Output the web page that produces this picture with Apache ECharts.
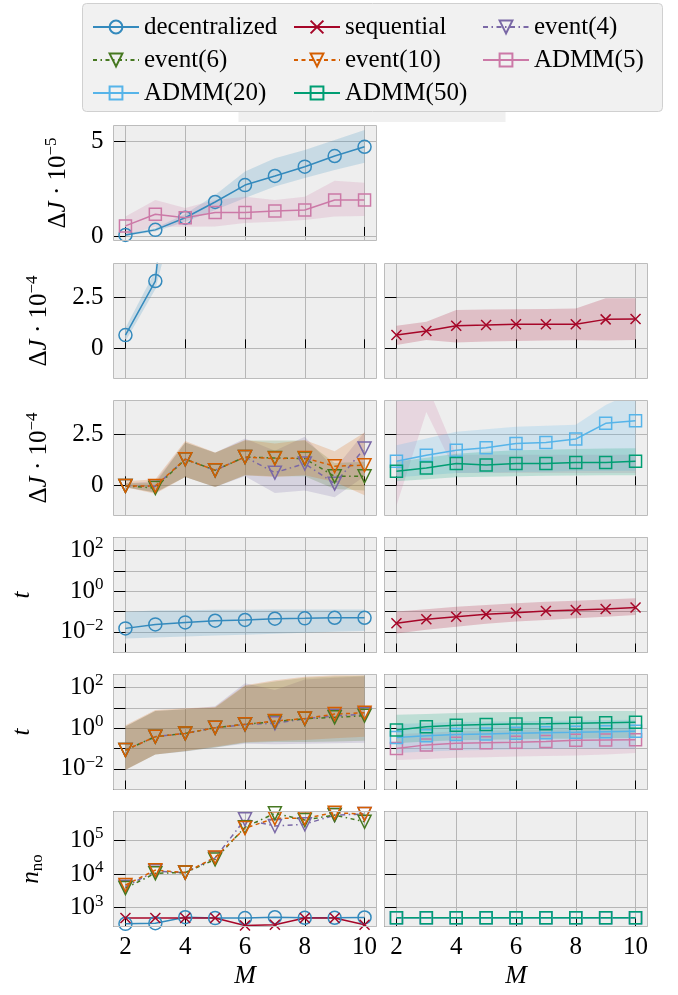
<!DOCTYPE html>
<html lang="en">
<head>
<meta charset="UTF-8">
<title>Delta J, t and n_no against M</title>
<style>
  html, body { margin: 0; padding: 0; background: #fff; }
  #main { width: 678px; height: 995px; }
</style>
</head>
<body>
<div id="main"></div>
<script src="https://cdn.jsdelivr.net/npm/echarts@6.0.0/dist/echarts.min.js"></script>
<script>
// x values (number of agents) and ticks
const M = [2, 3, 4, 5, 6, 7, 8, 9, 10];
const xTicks = [2, 4, 6, 8, 10];
const dJ5Ticks = [0, 5];
const dJ4Ticks = [0, 2.5];

// row 1: dJ in units of 1e-5
const r1Dec   = [0.05, 0.32, 0.96, 1.79, 2.68, 3.16, 3.65, 4.21, 4.70];
const r1DecLo = [0.00, 0.23, 0.75, 1.37, 2.00, 2.60, 3.05, 3.47, 3.86];
const r1DecHi = [0.12, 0.42, 1.16, 2.16, 3.39, 4.10, 4.53, 5.05, 5.58];
const r1Ad5   = [0.53, 1.14, 0.96, 1.23, 1.23, 1.32, 1.37, 1.89, 1.89];
const r1Ad5Lo = [0.05, 0.49, 0.49, 0.50, 0.68, 0.75, 0.84, 1.02, 1.05];
const r1Ad5Hi = [1.02, 1.90, 1.47, 1.90, 2.07, 1.90, 2.07, 2.91, 2.80];

// row 2: dJ in units of 1e-4
const r2Dec   = [0.65, 3.3, 17, 32, 50, 68, 88, 110, 132];
const r2DecLo = [0.35, 2.9, 8.5, 22, 38, 54, 72, 92, 112];
const r2DecHi = [1.00, 3.8, 25, 42, 62, 82, 104, 128, 152];
const r2Seq   = [0.65, 0.85, 1.11, 1.14, 1.18, 1.18, 1.18, 1.42, 1.44];
const r2SeqLo = [0.16, 0.41, 0.28, 0.34, 0.36, 0.38, 0.40, 0.38, 0.41];
const r2SeqHi = [1.11, 1.30, 1.88, 1.90, 1.92, 1.93, 1.95, 2.45, 2.45];

// row 3: dJ in units of 1e-4
const r3Ev4    = [-0.03, -0.05, 1.28, 0.74, 1.39, 0.62, 1.07, 0.08, 1.81];
const r3Ev4Lo  = [-0.10, -0.35, 0.41, -0.08, 0.45, -0.38, -0.25, -0.58, 0.45];
const r3Ev4Hi  = [0.10, 0.20, 2.10, 1.60, 2.30, 1.70, 2.38, 0.80, 2.60];
const r3Ev6    = [-0.03, -0.13, 1.28, 0.74, 1.39, 1.34, 1.31, 0.44, 0.44];
const r3Ev6Lo  = [-0.10, -0.35, 0.41, -0.08, 0.49, 0.45, 0.45, -0.18, -0.26];
const r3Ev6Hi  = [0.10, 0.10, 2.10, 1.60, 2.20, 2.20, 2.20, 1.10, 1.15];
const r3Ev10   = [-0.03, -0.03, 1.28, 0.74, 1.39, 1.31, 1.34, 0.94, 0.99];
const r3Ev10Lo = [-0.10, -0.41, 0.41, -0.08, 0.49, 0.41, 0.49, 0.16, -0.49];
const r3Ev10Hi = [0.20, 0.30, 2.17, 1.61, 2.22, 2.05, 2.22, 1.67, 2.59];
const r3Ad5Lo  = [-1.0, 3.6, 0.6, 0.6, 0.6, 0.6, 0.6, 0.6, 0.6];
const r3Ad5Hi  = [40, 5.0, 1.5, 1.5, 1.5, 1.5, 1.5, 1.5, 1.5];
const r3Ad20   = [1.18, 1.48, 1.72, 1.84, 2.05, 2.10, 2.27, 3.04, 3.17];
const r3Ad20Lo = [0.40, 0.50, 0.60, 0.62, 0.65, 0.66, 0.70, 0.70, 0.72];
const r3Ad20Hi = [1.97, 2.30, 2.63, 2.75, 2.87, 2.92, 2.97, 3.94, 4.60];
const r3Ad50   = [0.69, 0.85, 1.07, 1.00, 1.07, 1.07, 1.12, 1.12, 1.18];
const r3Ad50Lo = [0.20, 0.30, 0.40, 0.42, 0.45, 0.47, 0.48, 0.50, 0.50];
const r3Ad50Hi = [1.15, 1.35, 1.55, 1.65, 1.72, 1.75, 1.78, 1.80, 1.82];

// row 4: computation time t
const r4Dec   = [0.0147, 0.023, 0.029, 0.035, 0.038, 0.044, 0.046, 0.049, 0.049];
const r4DecLo = [0.0047, 0.0052, 0.0058, 0.0065, 0.0072, 0.0080, 0.0090, 0.0100, 0.0110];
const r4DecHi = [0.098, 0.110, 0.115, 0.120, 0.120, 0.125, 0.125, 0.125, 0.125];
const r4Seq   = [0.026, 0.041, 0.055, 0.072, 0.087, 0.105, 0.117, 0.132, 0.155];
const r4SeqLo = [0.0083, 0.0126, 0.0178, 0.025, 0.032, 0.038, 0.046, 0.055, 0.066];
const r4SeqHi = [0.10, 0.13, 0.17, 0.21, 0.25, 0.30, 0.34, 0.39, 0.45];

// row 5: computation time t
const r5Ev4    = [0.083, 0.38, 0.55, 1.05, 1.50, 1.74, 2.9, 4.0, 4.9];
const r5Ev4Lo  = [0.009, 0.050, 0.070, 0.11, 0.17, 0.16, 0.17, 0.18, 0.19];
const r5Ev4Hi  = [1.2, 7.0, 8.5, 12, 160, 76, 250, 300, 350];
const r5Ev6    = [0.083, 0.38, 0.55, 1.05, 1.55, 2.1, 2.9, 3.4, 4.1];
const r5Ev6Lo  = [0.009, 0.050, 0.072, 0.11, 0.19, 0.21, 0.21, 0.22, 0.24];
const r5Ev6Hi  = [1.2, 7.0, 8.5, 10, 120, 200, 300, 350, 380];
const r5Ev10   = [0.083, 0.38, 0.55, 1.05, 1.55, 2.24, 3.0, 4.9, 5.7];
const r5Ev10Lo = [0.0087, 0.051, 0.074, 0.12, 0.20, 0.23, 0.26, 0.32, 0.38];
const r5Ev10Hi = [1.4, 7.8, 9.5, 11, 130, 230, 340, 400, 400];
const r5Ad5    = [0.10, 0.15, 0.18, 0.19, 0.20, 0.22, 0.25, 0.26, 0.27];
const r5Ad5Lo  = [0.027, 0.030, 0.035, 0.037, 0.040, 0.042, 0.045, 0.050, 0.060];
const r5Ad5Hi  = [0.50, 0.60, 0.70, 0.75, 0.80, 0.85, 0.90, 0.95, 1.00];
const r5Ad20   = [0.35, 0.42, 0.48, 0.52, 0.56, 0.60, 0.63, 0.67, 0.70];
const r5Ad20Lo = [0.060, 0.070, 0.080, 0.085, 0.090, 0.095, 0.10, 0.10, 0.10];
const r5Ad20Hi = [1.6, 1.8, 2.0, 2.1, 2.2, 2.3, 2.4, 2.5, 2.6];
const r5Ad50   = [0.81, 1.17, 1.40, 1.50, 1.60, 1.63, 1.72, 1.86, 1.95];
const r5Ad50Lo = [0.18, 0.22, 0.25, 0.27, 0.28, 0.30, 0.30, 0.32, 0.33];
const r5Ad50Hi = [4.5, 5.0, 5.5, 6.0, 6.2, 6.5, 6.8, 7.0, 7.0];

// row 6: n_no
const r6Ev4  = [4200, 12000, 11000, 30000, 420000, 265000, 300000, 560000, 600000];
const r6Ev6  = [3800, 10500, 11000, 27000, 245000, 630000, 400000, 560000, 355000];
const r6Ev10 = [4700, 13000, 11000, 31000, 230000, 450000, 450000, 660000, 600000];
const r6Dec  = [330, 345, 520, 490, 490, 520, 500, 500, 510];
const r6Seq  = [490, 490, 490, 490, 295, 310, 490, 490, 310];
const r6Ad5  = [500, 500, 500, 500, 500, 500, 500, 500, 500];
const r6Ad20 = [500, 500, 500, 500, 500, 500, 500, 500, 500];
const r6Ad50 = [500, 500, 500, 500, 500, 500, 500, 500, 500];

const FONT = 'Liberation Serif';
const CROSS = 'path://M0,0L10,10M10,0L0,10';
const ST = {
  'decentralized': { color: '#348ABD', symbol: 'circle', size: 13, dash: 'solid' },
  'sequential':    { color: '#A60628', symbol: CROSS, size: 10, dash: 'solid' },
  'event(4)':      { color: '#7A68A6', symbol: 'triangle', size: 13, rotate: 180, dash: [5, 3.5, 1.5, 3.5] },
  'event(6)':      { color: '#467821', symbol: 'triangle', size: 13, rotate: 180, dash: [4, 3.5, 1.5, 3.5] },
  'event(10)':     { color: '#D55E00', symbol: 'triangle', size: 13, rotate: 180, dash: [4, 3.5] },
  'ADMM(5)':       { color: '#CC79A7', symbol: 'rect', size: 12, dash: 'solid' },
  'ADMM(20)':      { color: '#56B4E9', symbol: 'rect', size: 12, dash: 'solid' },
  'ADMM(50)':      { color: '#009E73', symbol: 'rect', size: 12, dash: 'solid' }
};

function alpha(hex, a) {
  const n = parseInt(hex.slice(1), 16);
  return 'rgba(' + (n >> 16) + ',' + ((n >> 8) & 255) + ',' + (n & 255) + ',' + a + ')';
}

// layout
const COLS = [113.5, 384.5], COLW = 263;
const TOPS = [125.5, 263.5, 400.5, 537.5, 674.5, 811.5], ROWH = 115;
// [row, col, kind]
const PANELS = [[0, 0, 'dJ5'], [1, 0, 'dJ4'], [1, 1, 'dJ4'], [2, 0, 'dJ4'], [2, 1, 'dJ4'],
  [3, 0, 't'], [3, 1, 't'], [4, 0, 't'], [4, 1, 't'], [5, 0, 'n'], [5, 1, 'n']];

const RICH = {
  b: { fontFamily: FONT, fontSize: 25, lineHeight: 30, color: '#000' },
  i: { fontFamily: FONT, fontSize: 25, lineHeight: 30, fontStyle: 'italic', color: '#000' },
  s: { fontFamily: FONT, fontSize: 17, lineHeight: 20, verticalAlign: 'top', color: '#000' },
  u: { fontFamily: FONT, fontSize: 17, lineHeight: 18, verticalAlign: 'bottom', color: '#000' }
};

const KIND = {
  dJ5: { type: 'value', min: -0.24, max: 5.82, ticks: dJ5Ticks, name: '{b|Δ}{i|J}{b| · 10}{s|−5}', gap: 40 },
  dJ4: { type: 'value', min: -1.48, max: 4.16, ticks: dJ4Ticks, name: '{b|Δ}{i|J}{b| · 10}{s|−4}', gap: 59 },
  t:   { type: 'log', min: 0.000955, max: 436.5, name: '{i|t}', gap: 76, every: 2 },
  n:   { type: 'log', min: 275.4, max: 716000, name: '{i|n}{u|no}', gap: 67, every: 1 }
};

function logLabel(every) {
  return function (v) {
    const e = Math.log10(v);
    const r = Math.round(e);
    if (Math.abs(e - r) > 1e-6 || r % every !== 0) return '';
    return '{b|10}{s|' + (r < 0 ? '−' + (-r) : r) + '}';
  };
}

const grids = [], xAxes = [], yAxes = [], frames = [];
PANELS.forEach(function (p) {
  const row = p[0], col = p[1], k = KIND[p[2]];
  const bottom = row === 5;
  grids.push({ left: COLS[col], top: TOPS[row], width: COLW, height: ROWH,
    show: true, backgroundColor: '#eeeeee', borderWidth: 0 });
  frames.push({ type: 'rect', z: 100, silent: true,
    shape: { x: COLS[col], y: TOPS[row], width: COLW, height: ROWH },
    style: { fill: 'none', stroke: '#bcbcbc', lineWidth: 1 } });
  xAxes.push({
    type: 'value', gridIndex: grids.length - 1, min: 1.6, max: 10.4,
    axisLine: { show: false },
    axisTick: { show: true, inside: true, length: 9, customValues: xTicks, lineStyle: { color: '#000', width: 1 } },
    axisLabel: { show: bottom, customValues: xTicks, margin: 8, fontFamily: FONT, fontSize: 25, color: '#000' },
    splitLine: { show: true, lineStyle: { color: '#b6b6b6', width: 1 } },
    name: bottom ? 'M' : '', nameLocation: 'middle', nameGap: 37,
    nameTextStyle: { fontFamily: FONT, fontSize: 26, fontStyle: 'italic', color: '#000' }
  });
  const y = {
    type: k.type, gridIndex: grids.length - 1, min: k.min, max: k.max,
    axisLine: { show: false },
    axisTick: { show: true, inside: true, length: 12, lineStyle: { color: '#000', width: 1 } },
    axisLabel: { show: col === 0, margin: 10, fontFamily: FONT, fontSize: 25, color: '#000', rich: RICH },
    splitLine: { show: true, lineStyle: { color: '#b6b6b6', width: 1 } },
    name: col === 0 ? k.name : '', nameLocation: 'middle', nameGap: k.gap, nameRotate: 90,
    nameTextStyle: { fontFamily: FONT, fontSize: 25, color: '#000', rich: RICH }
  };
  if (k.type === 'log') {
    y.logBase = 10;
    y.axisLabel.formatter = logLabel(k.every);
  } else {
    y.axisTick.customValues = k.ticks;
    y.axisLabel.customValues = k.ticks;
  }
  yAxes.push(y);
});

function band(g, lo, hi, name) {
  const fill = alpha(ST[name].color, 0.2);
  return {
    type: 'custom', xAxisIndex: g, yAxisIndex: g, clip: true, silent: true, z: 1,
    data: [[M[0], hi[0]]],
    renderItem: function (params, api) {
      const pts = [];
      for (let i = 0; i < M.length; i++) pts.push(api.coord([M[i], hi[i]]));
      for (let i = M.length - 1; i >= 0; i--) pts.push(api.coord([M[i], lo[i]]));
      return { type: 'polygon', shape: { points: pts }, style: { fill: fill } };
    }
  };
}

function line(g, vals, name) {
  const s = ST[name];
  return {
    type: 'line', name: name, xAxisIndex: g, yAxisIndex: g, z: 2, silent: true,
    data: M.map(function (m, i) { return [m, vals[i]]; }),
    symbol: s.symbol, symbolSize: s.size, symbolRotate: s.rotate || 0, showAllSymbol: true,
    lineStyle: { color: s.color, width: 1.5, type: s.dash },
    itemStyle: { color: 'rgba(0,0,0,0)', borderColor: s.color, borderWidth: 1.5 },
    emphasis: { disabled: true }
  };
}

const series = [
  band(0, r1DecLo, r1DecHi, 'decentralized'), band(0, r1Ad5Lo, r1Ad5Hi, 'ADMM(5)'),
  line(0, r1Dec, 'decentralized'), line(0, r1Ad5, 'ADMM(5)'),

  band(1, r2DecLo, r2DecHi, 'decentralized'), line(1, r2Dec, 'decentralized'),
  band(2, r2SeqLo, r2SeqHi, 'sequential'), line(2, r2Seq, 'sequential'),

  band(3, r3Ev4Lo, r3Ev4Hi, 'event(4)'), band(3, r3Ev6Lo, r3Ev6Hi, 'event(6)'),
  band(3, r3Ev10Lo, r3Ev10Hi, 'event(10)'),
  line(3, r3Ev4, 'event(4)'), line(3, r3Ev6, 'event(6)'), line(3, r3Ev10, 'event(10)'),
  band(4, r3Ad5Lo, r3Ad5Hi, 'ADMM(5)'), band(4, r3Ad20Lo, r3Ad20Hi, 'ADMM(20)'),
  band(4, r3Ad50Lo, r3Ad50Hi, 'ADMM(50)'),
  line(4, r3Ad20, 'ADMM(20)'), line(4, r3Ad50, 'ADMM(50)'),

  band(5, r4DecLo, r4DecHi, 'decentralized'), line(5, r4Dec, 'decentralized'),
  band(6, r4SeqLo, r4SeqHi, 'sequential'), line(6, r4Seq, 'sequential'),

  band(7, r5Ev4Lo, r5Ev4Hi, 'event(4)'), band(7, r5Ev6Lo, r5Ev6Hi, 'event(6)'),
  band(7, r5Ev10Lo, r5Ev10Hi, 'event(10)'),
  line(7, r5Ev4, 'event(4)'), line(7, r5Ev6, 'event(6)'), line(7, r5Ev10, 'event(10)'),
  band(8, r5Ad5Lo, r5Ad5Hi, 'ADMM(5)'), band(8, r5Ad20Lo, r5Ad20Hi, 'ADMM(20)'),
  band(8, r5Ad50Lo, r5Ad50Hi, 'ADMM(50)'),
  line(8, r5Ad5, 'ADMM(5)'), line(8, r5Ad20, 'ADMM(20)'), line(8, r5Ad50, 'ADMM(50)'),

  line(9, r6Ev4, 'event(4)'), line(9, r6Ev6, 'event(6)'), line(9, r6Ev10, 'event(10)'),
  line(9, r6Dec, 'decentralized'), line(9, r6Seq, 'sequential'),
  line(10, r6Ad5, 'ADMM(5)'), line(10, r6Ad20, 'ADMM(20)'), line(10, r6Ad50, 'ADMM(50)')
];

function legendCol(names, left) {
  return {
    data: names, left: left, top: 8, orient: 'vertical', itemGap: 5,
    itemWidth: 46, itemHeight: 16, selectedMode: false,
    textStyle: { fontFamily: FONT, fontSize: 25, color: '#000', lineHeight: 28 }
  };
}

const chart = echarts.init(document.getElementById('main'));
chart.setOption({
  animation: false,
  backgroundColor: '#fff',
  grid: grids,
  xAxis: xAxes,
  yAxis: yAxes,
  legend: [
    legendCol(['decentralized', 'event(6)', 'ADMM(20)'], 87),
    legendCol(['sequential', 'event(10)', 'ADMM(50)'], 288),
    legendCol(['event(4)', 'ADMM(5)'], 477)
  ],
  graphic: {
    elements: [{
      type: 'rect', z: 0, silent: true,
      shape: { x: 238.5, y: 111, width: 267, height: 11 },
      style: { fill: '#f0f0f0' }
    }, {
      type: 'rect', z: 0, silent: true,
      shape: { x: 82.5, y: 3.5, width: 580, height: 108, r: 4 },
      style: { fill: '#f1f1f1', stroke: '#d0d0d0', lineWidth: 1 }
    }].concat(frames)
  },
  series: series
});
</script>
</body>
</html>
